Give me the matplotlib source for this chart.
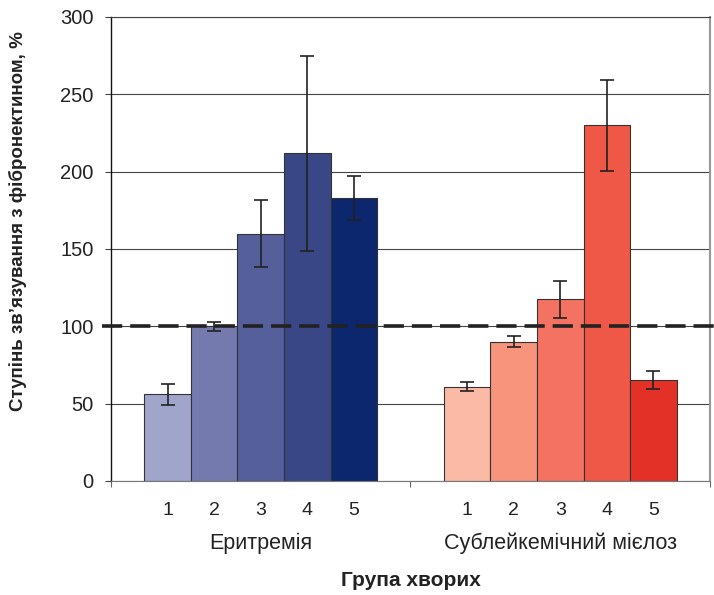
import matplotlib
matplotlib.use('Agg')
import matplotlib.pyplot as plt
import matplotlib.transforms as mtransforms

plt.rcParams['font.family'] = ['Liberation Sans', 'DejaVu Sans']

groups = ['Еритремія', 'Сублейкемічний мієлоз']
bar_labels = ['1', '2', '3', '4', '5']

erythremia_values = [56, 100, 160, 212, 183]
erythremia_errors = [7, 3, 21.5, 63, 14]
myelosis_values = [61, 90, 117.5, 230, 65.5]
myelosis_errors = [3, 3.5, 12, 29.5, 5.7]

erythremia_colors = ['#A0A5CC', '#747AAE', '#545F9B', '#394786', '#0C276E']
myelosis_colors = ['#FBBAA6', '#F8937C', '#F47262', '#EF5846', '#E43128']

reference_level = 100

group_width = 6.43
bar_width = 1.0

fig = plt.figure(figsize=(7.14, 5.95), dpi=100)
ax = fig.add_axes([111 / 714, 1 - 481 / 595, 599 / 714, 464 / 595])

series = [
    (erythremia_values, erythremia_errors, erythremia_colors),
    (myelosis_values, myelosis_errors, myelosis_colors),
]

label_tr = ax.get_xaxis_transform()
for g, (vals, errs, cols) in enumerate(series):
    center = g * group_width + group_width / 2
    xs = [center + (i - 2) * bar_width for i in range(len(vals))]
    ax.bar(xs, vals, width=bar_width, color=cols, edgecolor='#333333',
           linewidth=0.8, zorder=2)
    ax.errorbar(xs, vals, yerr=errs, fmt='none', ecolor='#222222',
                elinewidth=1.2, capsize=4.7, capthick=1.2, zorder=4)
    for x, lab in zip(xs, bar_labels):
        ax.text(x, -0.064, lab, transform=label_tr, ha='center', va='center',
                fontsize=14, color='#222222')
    ax.text(center, -0.135, groups[g], transform=label_tr, ha='center',
            va='center', fontsize=15.5, color='#222222')

ax.text(0.5, -0.215, 'Група хворих', transform=ax.transAxes, ha='center',
        va='center', fontsize=15, fontweight='bold', color='#222222')
fig.text(18 / 714, 1 - 221 / 595, 'Ступінь зв’язування з фібронектином, %',
         rotation=90, ha='center', va='center', fontsize=13.5,
         fontweight='bold', color='#222222')

# dashed reference line, runs past the frame like in the original
ref_tr = mtransforms.blended_transform_factory(ax.transAxes, ax.transData)
ax.plot([-0.015, 1.01], [reference_level, reference_level], transform=ref_tr,
        color='#222222', linewidth=2.6, dashes=(5.6, 2.2), clip_on=False,
        zorder=5)

ax.set_ylim(0, 300)
ax.set_xlim(0, 2 * group_width)
ax.set_yticks([0, 50, 100, 150, 200, 250, 300])
ax.yaxis.grid(True, color='#444444', linewidth=0.8, zorder=0)
ax.set_axisbelow(True)
ax.tick_params(axis='y', direction='out', length=4.5, width=0.8,
               color='#444444', pad=8, labelsize=14.5,
               labelcolor='#222222')

ax.set_xticks([0, group_width, 2 * group_width])
ax.set_xticklabels([])
ax.tick_params(axis='x', direction='out', length=4.5, width=0.8,
               color='#666666')

ax.spines['left'].set_color('#111111')
ax.spines['left'].set_linewidth(1.0)
ax.spines['bottom'].set_color('#777777')
ax.spines['right'].set_color('#999999')
ax.spines['right'].set_linewidth(1.5)
ax.spines['top'].set_color('#444444')
ax.spines['top'].set_linewidth(0.8)

fig.savefig('out.png', dpi=100)
